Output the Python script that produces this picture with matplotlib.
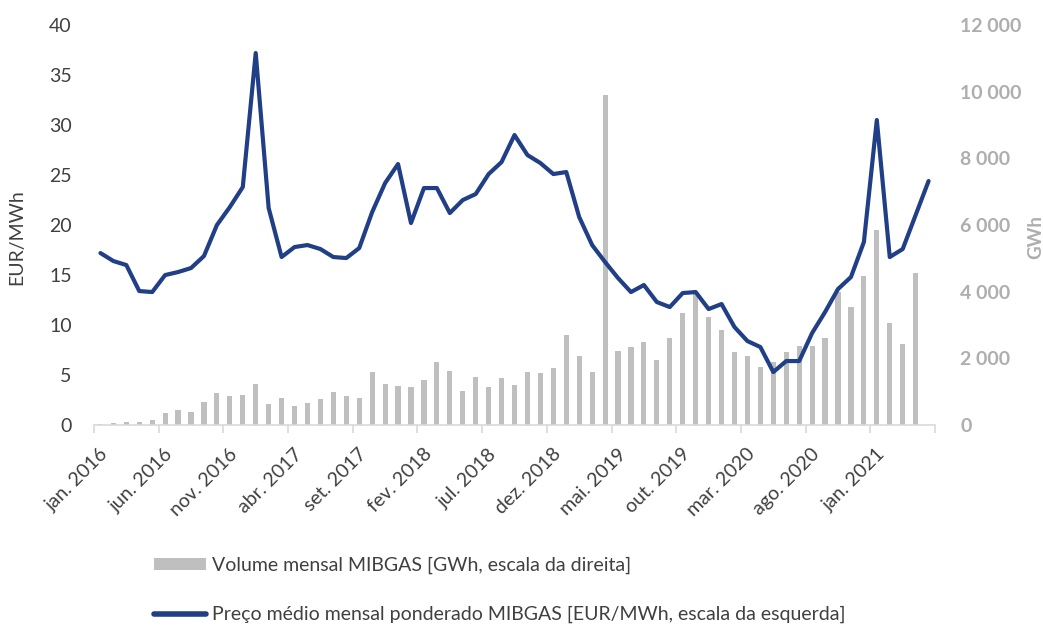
"""MIBGAS monthly volume and weighted average price, jan. 2016 - mai. 2021."""

import matplotlib

matplotlib.use("Agg")
import matplotlib.pyplot as plt
import matplotlib.transforms as mtransforms
import numpy as np
from matplotlib.lines import Line2D
from matplotlib.patches import Patch

# monthly weighted average price, EUR/MWh (jan. 2016 .. mai. 2021)
price = [
    17.2, 16.4, 16.0, 13.4, 13.3, 15.0, 15.3, 15.7, 16.9, 20.0, 21.8, 23.8,
    37.2, 21.7, 16.8, 17.8, 18.0, 17.6, 16.8, 16.7, 17.7, 21.3, 24.2, 26.1,
    20.2, 23.7, 23.7, 21.2, 22.5, 23.1, 25.1, 26.3, 29.0, 27.0, 26.2, 25.1,
    25.3, 20.8, 18.0, 16.3, 14.7, 13.3, 14.0, 12.3, 11.8, 13.2, 13.3, 11.6,
    12.1, 9.8, 8.4, 7.8, 5.3, 6.4, 6.4, 9.2, 11.3, 13.6, 14.8, 18.3,
    30.5, 16.8, 17.6, 21.0, 24.4,
]

# monthly traded volume, GWh (jan. 2016 .. abr. 2021)
volume = [
    40, 70, 90, 80, 140, 360, 450, 400, 690, 960, 860, 910,
    1220, 630, 810, 570, 660, 770, 1000, 880, 810, 1600, 1230, 1180,
    1150, 1360, 1900, 1630, 1030, 1450, 1150, 1420, 1200, 1580, 1550, 1700,
    2710, 2060, 1580, 9910, 2210, 2330, 2480, 1950, 2610, 3350, 3950, 3250,
    2850, 2180, 2060, 1750, 1880, 2180, 2380, 2380, 2610, 4000, 3550, 4480,
    5860, 3070, 2430, 4550,
]

tick_labels = [
    "jan. 2016", "jun. 2016", "nov. 2016", "abr. 2017", "set. 2017",
    "fev. 2018", "jul. 2018", "dez. 2018", "mai. 2019", "out. 2019",
    "mar. 2020", "ago. 2020", "jan. 2021",
]

LINE_COLOR = "#203F86"
BAR_COLOR = "#BFBFBF"
TEXT_COLOR = "#404040"
RIGHT_COLOR = "#AEAEAE"
AXIS_COLOR = "#D9D9D9"

plt.rcParams["font.family"] = ["Lato", "DejaVu Sans"]

n_cat = len(price)
x_price = np.arange(n_cat)
x_vol = np.arange(len(volume))

fig = plt.figure(figsize=(10.43, 6.26), dpi=100)
ax = fig.add_axes([0.0901, 0.321, 0.8064, 0.639])  # bars, right scale
ax2 = ax.twinx()  # line, left scale (drawn on top)

ax.bar(x_vol, volume, width=0.4, color=BAR_COLOR, zorder=2)
ax.set_ylim(0, 12000)
ax.set_yticks(np.arange(0, 12001, 2000))
ax.set_yticklabels([f"{v:,}".replace(",", " ") for v in range(0, 12001, 2000)])
ax.yaxis.tick_right()
ax.yaxis.set_label_position("right")
ax.tick_params(axis="y", length=0, pad=18, labelsize=14, labelcolor=RIGHT_COLOR)
for lbl in ax.get_yticklabels():
    lbl.set_fontweight("bold")
ax.set_ylabel("GWh", color=RIGHT_COLOR, fontsize=13.5, fontweight="bold")
ax.yaxis.set_label_coords(1.11, 0.47)

ax2.plot(x_price, price, color=LINE_COLOR, linewidth=3.0, solid_joinstyle="round",
         solid_capstyle="round", zorder=3)
ax2.set_ylim(0, 40)
ax2.set_yticks(np.arange(0, 41, 5))
ax2.yaxis.tick_left()
ax2.yaxis.set_label_position("left")
ax2.tick_params(axis="y", length=0, pad=16, labelsize=14, labelcolor=TEXT_COLOR)
ax2.set_ylabel("EUR/MWh", color=TEXT_COLOR, fontsize=14)
ax2.yaxis.set_label_coords(-0.082, 0.47)

ax.set_xlim(-0.5, n_cat - 0.5)
ax.set_xticks(np.arange(0, n_cat, 5))
ax.set_xticklabels(tick_labels, rotation=45, ha="right", va="center",
                   rotation_mode="anchor")
ax.set_xticks(np.arange(-0.5, n_cat, 5), minor=True)
ax.tick_params(axis="x", which="major", length=0, pad=19, labelsize=14,
               labelcolor=TEXT_COLOR)
ax.tick_params(axis="x", which="minor", length=6, width=1.2, color=AXIS_COLOR)
shift = mtransforms.ScaledTranslation(5 / 100, 0, fig.dpi_scale_trans)
for lbl in ax.get_xticklabels():
    lbl.set_transform(lbl.get_transform() + shift)

for a in (ax, ax2):
    for side in ("top", "left", "right"):
        a.spines[side].set_visible(False)
    a.spines["bottom"].set_color(AXIS_COLOR)
    a.spines["bottom"].set_linewidth(1.2)
ax2.spines["bottom"].set_visible(False)

handles = [
    Patch(facecolor=BAR_COLOR, edgecolor="none"),
    Line2D([], [], color=LINE_COLOR, linewidth=4, solid_capstyle="round"),
]
labels = [
    "Volume mensal MIBGAS [GWh, escala da direita]",
    "Preço médio mensal ponderado MIBGAS [EUR/MWh, escala da esquerda]",
]
fig.legend(handles, labels, loc="upper left", bbox_to_anchor=(0.1477, 0.110),
           bbox_transform=fig.transFigure, frameon=False, fontsize=14,
           borderpad=0, borderaxespad=0, handlelength=2.67, handleheight=0.57,
           handletextpad=0.3, labelspacing=1.62, labelcolor=TEXT_COLOR)

fig.savefig("out.png", dpi=100)
